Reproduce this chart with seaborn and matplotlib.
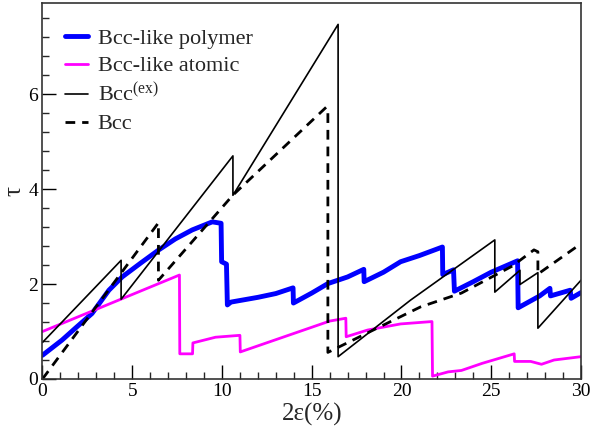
import matplotlib
matplotlib.use("Agg")
import matplotlib.pyplot as plt
import seaborn as sns
import numpy as np

# ---- data ----
poly_x = [0, 1.09, 1.83, 2.76, 3.7, 4.44, 5.5, 6.48, 7.4, 8.34, 9.46, 9.95, 9.98, 10.25, 10.3,
          10.5, 12.0, 13.0, 13.96, 13.98, 15.0, 15.9, 17.0, 17.9, 17.92, 19.0, 19.95, 21.0,
          22.28, 22.3, 22.9, 22.95, 24.0, 25.0, 26.47, 26.5, 27.7, 28.27, 28.3, 29.4, 29.45, 30.0]
poly_y = [0.5, 0.82, 1.07, 1.38, 1.87, 2.15, 2.45, 2.72, 2.95, 3.14, 3.31, 3.28, 2.47, 2.42, 1.56,
          1.62, 1.72, 1.8, 1.92, 1.6, 1.81, 2.01, 2.15, 2.31, 2.05, 2.25, 2.47, 2.6,
          2.78, 2.2, 2.3, 1.85, 2.05, 2.25, 2.49, 1.5, 1.75, 1.91, 1.75, 1.87, 1.7, 1.82]

atom_x = [0, 7.63, 7.65, 8.36, 8.38, 9.64, 11.0, 11.02, 16.0, 16.9, 16.92, 18.1, 19.95, 21.7,
          21.73, 22.6, 23.34, 24.5, 26.28, 26.3, 27.2, 27.8, 28.5, 30.0]
atom_y = [1.0, 2.19, 0.53, 0.53, 0.76, 0.88, 0.92, 0.57, 1.22, 1.28, 0.89, 1.03, 1.16, 1.21,
          0.06, 0.15, 0.18, 0.33, 0.53, 0.37, 0.37, 0.31, 0.4, 0.47]

ex_x = [0, 4.38, 4.38, 10.61, 10.61, 16.47, 16.47, 20.5, 25.2, 25.2, 26.6, 26.6, 27.6, 27.6, 30]
ex_y = [0.77, 2.5, 1.68, 4.70, 3.87, 7.47, 0.47, 1.66, 2.93, 1.83, 2.29, 1.99, 2.24, 1.07, 2.08]

bcc_x = [0, 6.46, 6.46, 10.6, 15.82, 15.9, 15.9, 18.8, 21.07, 23.34, 26.18, 27.38, 27.6, 27.6, 30]
bcc_y = [0, 3.29, 2.08, 3.87, 5.73, 5.6, 0.56, 1.1, 1.52, 1.81, 2.38, 2.72, 2.68, 2.21, 2.85]

labels = ["Bcc-like polymer", "Bcc-like atomic", r"Bcc$^{\mathrm{(ex)}}$", "Bcc"]

sns.set_theme(style="white")
plt.rcParams['font.family'] = ['Liberation Serif', 'DejaVu Serif']
plt.rcParams['mathtext.fontset'] = 'custom'
plt.rcParams['mathtext.rm'] = 'Liberation Serif'
plt.rcParams['mathtext.it'] = 'Liberation Serif:italic'

fig = plt.figure(figsize=(5.9, 4.32), dpi=100)
ax = fig.add_axes([0.0720, 0.1227, 0.9127, 0.8703])

sns.lineplot(x=poly_x, y=poly_y, estimator=None, sort=False, ax=ax, color="#0000ff",
             lw=3.5, label=labels[0])
sns.lineplot(x=atom_x, y=atom_y, estimator=None, sort=False, ax=ax, color="#ff00ff",
             lw=2.0, label=labels[1])
sns.lineplot(x=ex_x, y=ex_y, estimator=None, sort=False, ax=ax, color="black",
             lw=1.2, label=labels[2])
sns.lineplot(x=bcc_x, y=bcc_y, estimator=None, sort=False, ax=ax, color="black",
             lw=2.0, label=labels[3])
ax.lines[-1].set_dashes([3.5, 2.5])

ax.set_xlim(0, 30)
ax.set_ylim(0, 7.92)
ax.set_xticks([0, 5, 10, 15, 20, 25, 30])
ax.set_yticks([0, 2, 4, 6])
ax.set_xticks(np.arange(0, 30.1, 1), minor=True)
ax.set_yticks(np.arange(0, 7.9, 0.4), minor=True)
ax.tick_params(which='major', direction='in', length=10, width=1, labelsize=14,
               bottom=True, left=True, top=False, right=False, pad=3, colors='black')
ax.tick_params(which='minor', direction='in', length=5, width=1,
               bottom=True, left=True, top=False, right=False)
for s in ax.spines.values():
    s.set_color('#333333')
    s.set_linewidth(1.2)

ax.set_xlabel("2ε(%)", fontsize=18, labelpad=2)
ax.set_ylabel("τ", fontsize=18, labelpad=2)

leg = ax.legend(loc='upper left', frameon=False, fontsize=16, handlelength=1.0,
                handletextpad=0.45, labelspacing=0.3, bbox_to_anchor=(0.0427, 0.932),
                borderaxespad=0.0, borderpad=0.0)

fig.savefig("out.png", dpi=100)
